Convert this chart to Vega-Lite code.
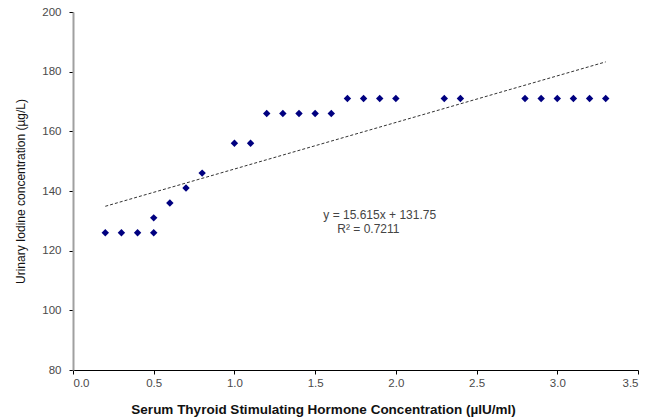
{
  "$schema": "https://vega.github.io/schema/vega-lite/v6.json",
  "width": 565,
  "height": 358,
  "autosize": "none",
  "padding": {"left": 73, "top": 12, "right": 11, "bottom": 49},
  "background": "white",
  "config": {
    "view": {"stroke": null},
    "font": "Liberation Sans",
    "axis": {
      "grid": false,
      "labelFont": "Liberation Sans",
      "titleFont": "Liberation Sans",
      "labelFontSize": 11.5,
      "labelColor": "#4a4a4a",
      "titleColor": "#111111",
      "tickSize": 4
    }
  },
  "datasets": {
    "readings": [
      {"tsh": 0.2, "uic": 126},
      {"tsh": 0.3, "uic": 126},
      {"tsh": 0.4, "uic": 126},
      {"tsh": 0.5, "uic": 126},
      {"tsh": 0.5, "uic": 131},
      {"tsh": 0.6, "uic": 136},
      {"tsh": 0.7, "uic": 141},
      {"tsh": 0.8, "uic": 146},
      {"tsh": 1.0, "uic": 156},
      {"tsh": 1.1, "uic": 156},
      {"tsh": 1.2, "uic": 166},
      {"tsh": 1.3, "uic": 166},
      {"tsh": 1.4, "uic": 166},
      {"tsh": 1.5, "uic": 166},
      {"tsh": 1.6, "uic": 166},
      {"tsh": 1.7, "uic": 171},
      {"tsh": 1.8, "uic": 171},
      {"tsh": 1.9, "uic": 171},
      {"tsh": 2.0, "uic": 171},
      {"tsh": 2.3, "uic": 171},
      {"tsh": 2.4, "uic": 171},
      {"tsh": 2.8, "uic": 171},
      {"tsh": 2.9, "uic": 171},
      {"tsh": 3.0, "uic": 171},
      {"tsh": 3.1, "uic": 171},
      {"tsh": 3.2, "uic": 171},
      {"tsh": 3.3, "uic": 171}
    ],
    "trend": [
      {"tsh": 0.2, "uic": 134.873},
      {"tsh": 3.3, "uic": 183.28}
    ],
    "equation": [
      {"tsh": 1.9, "uic": 131.9, "label": "y = 15.615x + 131.75"},
      {"tsh": 1.83, "uic": 127.2, "label": "R² = 0.7211"}
    ]
  },
  "layer": [
    {
      "data": {"name": "trend"},
      "mark": {"type": "line", "color": "#333333", "strokeWidth": 1, "strokeDash": [3, 2]},
      "encoding": {
        "x": {"field": "tsh", "type": "quantitative"},
        "y": {"field": "uic", "type": "quantitative"}
      }
    },
    {
      "data": {"name": "readings"},
      "mark": {"type": "point", "shape": "diamond", "filled": true, "size": 55, "color": "#000080", "opacity": 1},
      "encoding": {
        "x": {
          "field": "tsh",
          "type": "quantitative",
          "scale": {"domain": [0, 3.5], "nice": false, "zero": false},
          "axis": {
            "title": "Serum Thyroid Stimulating Hormone Concentration (µIU/ml)",
            "titleFontSize": 13.5,
            "titleFontWeight": "bold",
            "titlePadding": 14,
            "titleX": 250,
            "values": [0, 0.5, 1, 1.5, 2, 2.5, 3, 3.5],
            "format": ".1f",
            "labelPadding": 3,
            "domainColor": "#000000",
            "tickColor": "#000000"
          }
        },
        "y": {
          "field": "uic",
          "type": "quantitative",
          "scale": {"domain": [80, 200], "nice": false, "zero": false},
          "axis": {
            "title": "Urinary Iodine concentration (µg/L)",
            "titleFontSize": 12,
            "titleFontWeight": "normal",
            "titlePadding": 14,
            "values": [80, 100, 120, 140, 160, 180, 200],
            "labelPadding": 8,
            "domainColor": "#a0a0a0",
            "domainWidth": 2,
            "tickColor": "#000000"
          }
        }
      }
    },
    {
      "data": {"name": "equation"},
      "mark": {"type": "text", "fontSize": 12, "color": "#444444", "font": "Liberation Sans"},
      "encoding": {
        "x": {"field": "tsh", "type": "quantitative"},
        "y": {"field": "uic", "type": "quantitative"},
        "text": {"field": "label"}
      }
    }
  ]
}
